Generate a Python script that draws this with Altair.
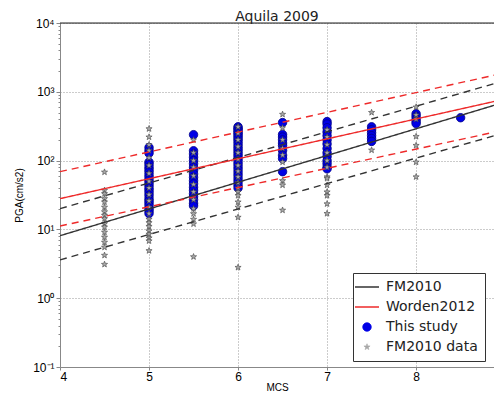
import math
import altair as alt
import pandas as pd

# ---------------- data ----------------
series_names = ["FM2010", "Worden2012", "This study", "FM2010 data"]
series_colors = ["#333333", "#ee2a2a", "#0000e6", "#a8a8a8"]

mcs_ends = [4, 9]
fm2010_mean = [8.1, 710]
fm2010_upper = [20, 1460]
fm2010_lower = [3.6, 255]
worden_mean = [28, 785]
worden_upper = [69, 1890]
worden_lower = [11.2, 280]

study_mcs = [5, 5.5, 6, 6.5, 7, 7.5, 8, 8.5, 9]
study_pga = [
    [155, 140, 128, 95, 88, 80, 74, 68, 62, 57, 52, 48, 44, 40, 37, 34, 31, 28, 26, 24, 22, 20, 18.5, 17],
    [238, 139, 125, 112, 100, 90, 80, 72, 64, 57, 51, 46, 41, 37, 33, 30, 27, 24, 22],
    [310, 295, 280, 265, 250, 235, 220, 205, 190, 175, 160, 148, 136, 125, 115, 105, 96, 88, 80, 73, 66, 60, 54, 49, 44, 40],
    [357, 240, 220, 200, 180, 165, 140, 120, 107, 69],
    [369, 340, 300, 260, 230, 200, 175, 150, 130, 115, 100, 90, 80, 76],
    [310, 280, 255, 230, 210, 190],
    [480, 440, 400, 370, 345],
    [420],
    [430],
]

fmdata_mcs = [4.5, 5, 5.5, 6, 6.5, 7, 7.5, 8]
fmdata_pga = [
    [68, 37, 33, 28, 25, 21, 18, 16, 14.3, 12.1, 10.8, 9.1, 7.7, 6.5, 5.5, 4.2, 3.1],
    [290, 220, 170, 140, 110, 85, 65, 50, 40, 32, 26, 21, 17, 14, 12.5, 11, 9.5, 8.5, 7.5, 6.8, 4.9],
    [200, 130, 100, 80, 60, 45, 35, 27, 20, 16.9, 14, 12, 4.0],
    [310, 250, 200, 160, 130, 105, 85, 70, 58, 48, 40, 35, 31, 25, 21, 15, 2.8],
    [470, 300, 200, 150, 120, 95, 51, 44, 19],
    [280, 220, 170, 130, 100, 80, 58, 55, 44, 35, 31, 23.5, 17],
    [500, 142],
    [600, 460, 400, 224, 166, 95, 58],
]

x_ticks = [4, 5, 6, 7, 8]
y_major = [0.1, 1, 10, 100, 1000, 10000]
y_top = [10000]  # upper limit of the PGA axis (frame line)

# ---------------- tables ----------------
line_rows = []
for name, band, vals in [
    ("FM2010", "mean", fm2010_mean), ("FM2010", "upper", fm2010_upper), ("FM2010", "lower", fm2010_lower),
    ("Worden2012", "mean", worden_mean), ("Worden2012", "upper", worden_upper), ("Worden2012", "lower", worden_lower),
]:
    for m, v in zip(mcs_ends, vals):
        line_rows.append({"series": name, "band": band, "id": name + band, "mcs": m, "pga": v})
lines_df = pd.DataFrame(line_rows)

study_df = pd.DataFrame(
    [{"series": "This study", "mcs": m, "pga": v} for m, vs in zip(study_mcs, study_pga) for v in vs]
)
fmdata_df = pd.DataFrame(
    [{"series": "FM2010 data", "mcs": m, "pga": v} for m, vs in zip(fmdata_mcs, fmdata_pga) for v in vs]
)
top_df = pd.DataFrame({"pga": y_top})

# five-pointed star symbol path (unit box)
pts = []
for k in range(10):
    r = 1.0 if k % 2 == 0 else 0.42
    a = math.radians(-90 + 36 * k)
    pts.append(f"{r * math.cos(a):.3f},{r * math.sin(a):.3f}")
STAR = "M" + "L".join(pts) + "Z"

y_minor = [m * 10 ** e for e in range(-1, 4) for m in range(2, 10)]
y_vals = sorted(y_major + y_minor)

is_major = "abs(log(datum.value)/LN10 - round(log(datum.value)/LN10)) < 0.01"
sup = {-1: "10⁻¹", 0: "10⁰", 1: "10¹", 2: "10²", 3: "10³", 4: "10⁴"}
label_expr = ""
for e, s in sup.items():
    label_expr += f"round(log(datum.value)/LN10) == {e} ? '{s}' : "
label_expr = f"{is_major} ? ({label_expr} '') : ''"

color_scale = alt.Scale(domain=series_names, range=series_colors)
shape_scale = alt.Scale(domain=series_names, range=["stroke", "stroke", "circle", STAR])
size_scale = alt.Scale(type="ordinal", domain=series_names, range=[576, 576, 72, 42])
x_scale = alt.Scale(domain=[4, 8.875], nice=False, zero=False)
y_scale = alt.Scale(type="log", domain=[0.1, 10000], nice=False)

x_axis = alt.Axis(values=x_ticks, title="MCS", titleFontSize=10, titleFontWeight="normal",
                  labelFontSize=12, tickSize=3, labelPadding=1, titlePadding=0,
                  grid=True, gridDash=[1, 2], gridColor="#999999")
y_axis = alt.Axis(values=y_vals, labelExpr=label_expr, title="PGA(cm/s2)", titleFontSize=10,
                  titleFontWeight="normal", labelFontSize=12, labelPadding=2, titlePadding=8,
                  tickSize={"condition": {"test": is_major, "value": 4}, "value": 2},
                  gridOpacity={"condition": {"test": is_major, "value": 1}, "value": 0},
                  grid=True, gridDash=[1, 2], gridColor="#999999")

legend = alt.Legend(
    title=None, orient="none", legendX=293, legendY=250, fillColor="white", strokeColor="#333333",
    padding=7, labelFontSize=14, labelFont="DejaVu Sans", labelColor="#222222",
    rowPadding=6, labelOffset=12,
    symbolStrokeColor={"expr": "datum.value == 'FM2010 data' ? '#444444' : datum.value == 'This study' ? '#000088' : scale('color', datum.value)"},
    symbolFillColor={"expr": "datum.value == 'This study' || datum.value == 'FM2010 data' ? scale('color', datum.value) : 'transparent'"},
    symbolStrokeWidth={"expr": "datum.value == 'FM2010 data' ? 0.6 : datum.value == 'This study' ? 0.8 : 1.5"},
)

X = alt.X("mcs:Q", scale=x_scale, axis=x_axis, title="MCS")
Y = alt.Y("pga:Q", scale=y_scale, axis=y_axis, title="PGA(cm/s2)")

study_layer = alt.Chart(study_df).mark_point(
    filled=True, stroke="#000088", strokeWidth=0.8, opacity=1, clip=True
).encode(
    x=X, y=Y,
    color=alt.Color("series:N", scale=color_scale, legend=legend),
    shape=alt.Shape("series:N", scale=shape_scale, legend=legend),
    size=alt.Size("series:N", scale=size_scale, legend=legend),
)

fmdata_layer = alt.Chart(fmdata_df).mark_point(
    filled=True, stroke="#444444", strokeWidth=0.6, opacity=1, clip=True
).encode(
    x=X, y=Y,
    color=alt.Color("series:N", scale=color_scale, legend=legend),
    shape=alt.Shape("series:N", scale=shape_scale, legend=legend),
    size=alt.Size("series:N", scale=size_scale, legend=legend),
)

lines_layer = alt.Chart(lines_df).mark_line(strokeWidth=1.4, clip=True).encode(
    x=X, y=Y,
    color=alt.Color("series:N", scale=color_scale, legend=legend),
    detail="id:N",
    strokeDash=alt.StrokeDash("band:N", scale=alt.Scale(domain=["mean", "upper", "lower"],
                              range=[[1, 0], [7, 5], [7, 5]]), legend=None),
)

top_layer = alt.Chart(top_df).mark_rule(color="#222222", strokeWidth=1).encode(y=Y)

chart = alt.layer(study_layer, fmdata_layer, lines_layer, top_layer).properties(
    width=434, height=344,
    title=alt.TitleParams("Aquila 2009", fontSize=14, fontWeight="normal", font="DejaVu Sans",
                          color="#222222", offset=0, dy=7, frame="group"),
    autosize=alt.AutoSizeParams(type="none"),
    padding={"left": 52, "top": 15, "right": 0, "bottom": 28},
).configure_view(stroke=None).configure_axis(
    labelFont="DejaVu Sans", titleFont="DejaVu Sans", labelColor="#222222", titleColor="#222222",
    domainColor="#222222", tickColor="#222222",
).configure(background="white")

chart.save("out.html", embed_options={"renderer": "svg", "actions": False})
